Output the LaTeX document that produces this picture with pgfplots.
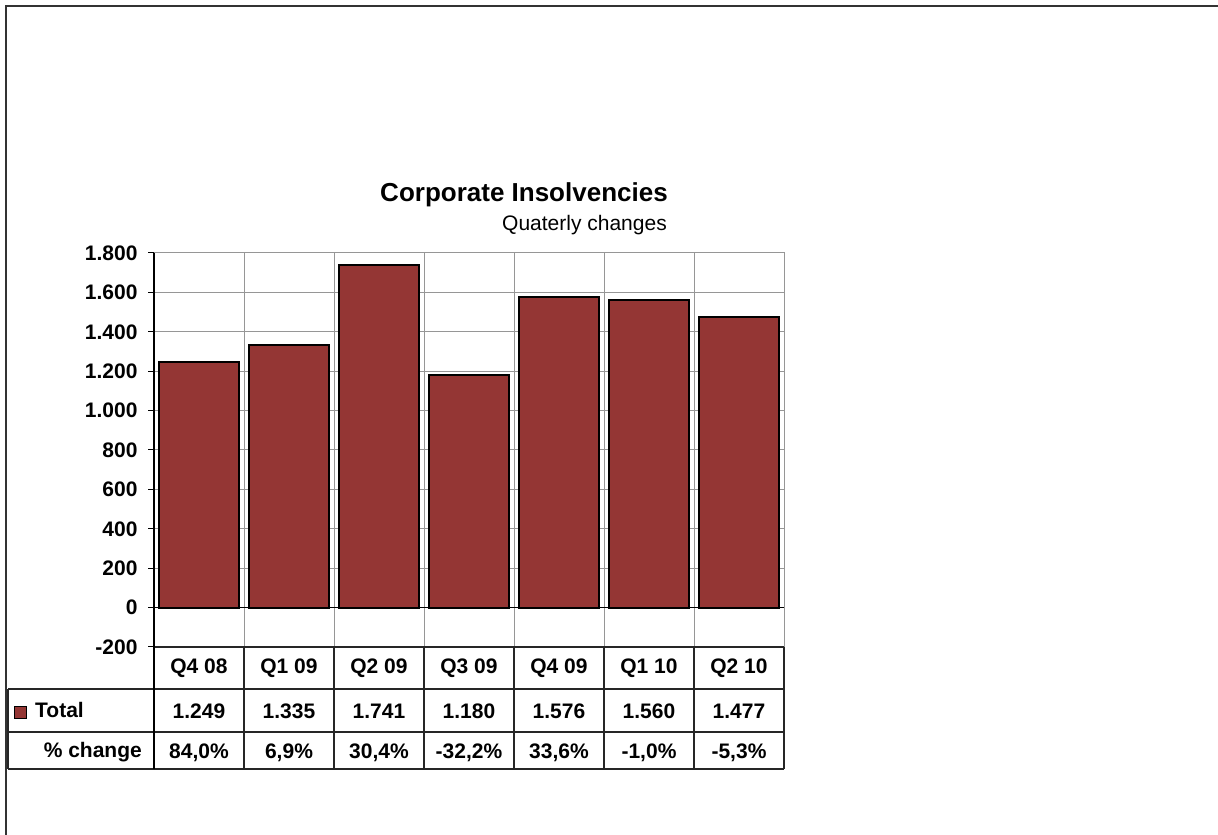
\documentclass[border=0pt]{standalone}
\usepackage{pgfplots}
\pgfplotsset{compat=1.18}
\usepackage{pgfplotstable}
\usepackage{fontspec}
\setmainfont{Liberation Sans}
\definecolor{barred}{RGB}{148,54,52}
\definecolor{gridgray}{RGB}{150,150,150}
\newcommand{\tf}{\bfseries\fontsize{21bp}{24bp}\selectfont}

\pgfplotstableread{
x q        total tlabel change
0 {Q4 08}  1249  1.249  84,0
1 {Q1 09}  1335  1.335  6,9
2 {Q2 09}  1741  1.741  30,4
3 {Q3 09}  1180  1.180  -32,2
4 {Q4 09}  1576  1.576  33,6
5 {Q1 10}  1560  1.560  -1,0
6 {Q2 10}  1477  1.477  -5,3
}\datatable

\begin{document}
\begin{tikzpicture}
\useasboundingbox (0,0) rectangle (1218bp,835bp);
\begin{axis}[
  at={(154bp,188bp)}, anchor=south west,
  scale only axis, width=630bp, height=394bp,
  xmin=-0.5, xmax=6.5, ymin=-200, ymax=1800,
  clip=false,
  axis line style={draw=gridgray, line width=1bp},
  xtick={0.5,1.5,...,5.5}, xticklabels={}, x tick style={draw=none},
  ytick={-200,0,200,...,1800},
  yticklabels={-200,0,200,400,600,800,1.000,1.200,1.400,1.600,1.800},
  ytick pos=left, tick align=outside, major tick length=6bp,
  y tick style={black, line width=1bp},
  yticklabel style={font=\tf, xshift=-7bp},
  xmajorgrids, ymajorgrids,
  grid style={gridgray, line width=1bp},
]
\draw[black, line width=1bp] (axis cs:-0.5,0) -- (axis cs:6.5,0);
\addplot[ybar, bar width=80bp, fill=barred, draw=black, line width=2bp]
  table[x=x, y=total]{\datatable};
\addplot[draw=none, mark=none, nodes near coords={\pgfplotspointmeta},
  point meta=explicit symbolic,
  every node near coord/.append style={anchor=base, font=\tf, inner sep=0pt}]
  table[x=x, y expr=-335.6, meta=q]{\datatable};
\addplot[draw=none, mark=none, nodes near coords={\pgfplotspointmeta},
  point meta=explicit symbolic,
  every node near coord/.append style={anchor=base, font=\tf, inner sep=0pt}]
  table[x=x, y expr=-563, meta=tlabel]{\datatable};
\addplot[draw=none, mark=none, nodes near coords={\pgfplotspointmeta\%},
  point meta=explicit symbolic,
  every node near coord/.append style={anchor=base, font=\tf, inner sep=0pt}]
  table[x=x, y expr=-766, meta=change]{\datatable};
\end{axis}
\begin{scope}[x=1bp, y=-1bp, shift={(0,835bp)}]
  % frame
  \draw[line width=2bp, black!80] (6,835) -- (6,6) -- (1218,6);
  % title
  \node[anchor=base, inner sep=0pt, font=\bfseries\fontsize{26bp}{30bp}\selectfont] at (524,202) {Corporate Insolvencies};
  \node[anchor=base east, inner sep=0pt, font=\fontsize{21bp}{24bp}\selectfont] at (667,231) {Quaterly changes};
  % table lines
  \begin{scope}[black!85, line width=1.2bp]
    \draw (154,647) -- (784,647);
    \draw (8,689) -- (784,689);
    \draw (8,732) -- (784,732);
    \draw (8,769) -- (784,769);
    \draw (8,689) -- (8,769);
    \foreach \xx in {244,334,424,514,604,694,784} \draw (\xx,647) -- (\xx,769);
  \end{scope}
  \draw[black, line width=2bp] (154,253) -- (154,769);
  % row headers
  \draw[fill=barred, draw=black, line width=1bp] (14,707) rectangle (26,719);
  \node[anchor=base west, inner sep=0pt, font=\tf] at (35,718) {Total};
  \node[anchor=base east, inner sep=0pt, font=\tf] at (142,758) {\% change};
\end{scope}
\end{tikzpicture}
\end{document}
